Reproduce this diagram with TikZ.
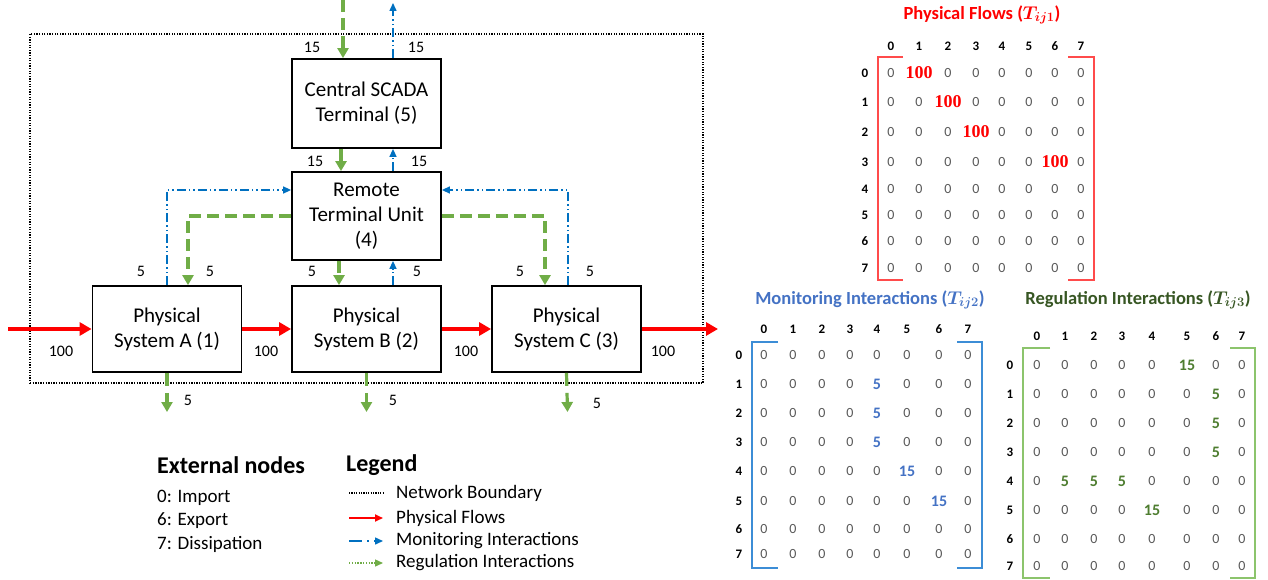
\documentclass[tikz,border=0pt]{standalone}
\usepackage{fix-cm}
\usepackage{fontspec}
\setmainfont{Carlito}
\newfontfamily\serifnum{Liberation Serif}
\usetikzlibrary{arrows.meta}
\definecolor{pred}{HTML}{FF0000}
\definecolor{mblue}{HTML}{0070C0}
\definecolor{rgreen}{HTML}{70AD47}
\definecolor{tblue}{HTML}{4472C4}
\definecolor{tgreen}{HTML}{375623}
\definecolor{vgreen}{HTML}{4E7D30}
\definecolor{zgray}{HTML}{595959}
\definecolor{bred}{HTML}{FF4B4B}
\definecolor{bblue}{HTML}{3C8DD6}
\definecolor{bgreen}{HTML}{8CC46C}
% special matrix entries
\expandafter\def\csname pf01\endcsname{100}
\expandafter\def\csname pf12\endcsname{100}
\expandafter\def\csname pf23\endcsname{100}
\expandafter\def\csname pf36\endcsname{100}
\expandafter\def\csname mi14\endcsname{5}
\expandafter\def\csname mi24\endcsname{5}
\expandafter\def\csname mi34\endcsname{5}
\expandafter\def\csname mi45\endcsname{15}
\expandafter\def\csname mi56\endcsname{15}
\expandafter\def\csname rg05\endcsname{15}
\expandafter\def\csname rg16\endcsname{5}
\expandafter\def\csname rg26\endcsname{5}
\expandafter\def\csname rg36\endcsname{5}
\expandafter\def\csname rg41\endcsname{5}
\expandafter\def\csname rg42\endcsname{5}
\expandafter\def\csname rg43\endcsname{5}
\expandafter\def\csname rg54\endcsname{15}
\def\pcols{0/891,1/919,2/948,3/976,4/1002,5/1029,6/1055,7/1081}
\def\prows{0/73,1/102,2/132,3/162,4/189,5/215,6/241,7/268}
\def\mcols{0/764,1/793,2/822,3/850,4/877,5/907,6/939,7/968}
\def\mrows{0/355,1/384,2/413,3/442,4/471,5/501,6/529,7/554}
\def\gcols{0/1037,1/1065,2/1094,3/1122,4/1152,5/1187,6/1216,7/1242}
\def\grows{0/365,1/394,2/423,3/452,4/481,5/510,6/539,7/566}
\tikzset{
  box/.style={draw, line width=1.8pt, minimum width=149pt, minimum height=88pt, align=center, inner sep=0pt, font=\fontsize{21}{25}\selectfont},
  lbl/.style={font=\fontsize{16}{19}\selectfont, inner sep=0pt},
  phys/.style={draw=pred, line width=4pt, -{Triangle[length=12pt,width=13pt]}},
  mon/.style={draw=mblue, line width=1.5pt, dash pattern=on 9pt off 3pt on 1.5pt off 3pt on 1.5pt off 3pt, -{Triangle[length=8pt,width=7pt]}},
  reg/.style={draw=rgreen, line width=3.2pt, dash pattern=on 12pt off 6pt, -{Triangle[length=10pt,width=11pt]}},
  boundary/.style={draw, line width=1.1pt, dash pattern=on 1.3pt off 1.3pt},
  legtxt/.style={anchor=west, inner sep=0pt, font=\fontsize{19}{22}\selectfont},
  legtitle/.style={anchor=west, inner sep=0pt, font=\bfseries\fontsize{24}{27}\selectfont},
  hdr/.style={inner sep=0pt, font=\bfseries\fontsize{13}{15}\selectfont},
  zero/.style={inner sep=0pt, text=zgray, font=\fontsize{14}{16}\selectfont},
  pval/.style={inner sep=0pt, text=pred, font=\serifnum\bfseries\fontsize{18}{20}\selectfont},
  mval/.style={inner sep=0pt, text=tblue, font=\bfseries\fontsize{16}{18}\selectfont},
  gval/.style={inner sep=0pt, text=vgreen, font=\bfseries\fontsize{16}{18}\selectfont},
  mtitle/.style={inner sep=0pt, font=\bfseries\boldmath\fontsize{18.5}{22}\selectfont},
  brk/.style={line width=1.6pt}
}
\begin{document}
\begin{tikzpicture}[x=1pt,y=-1pt]
\useasboundingbox (0,0) rectangle (1268,580);
% network boundary
\node[boundary, minimum width=673pt, minimum height=349pt, inner sep=0pt] (bnd) at (366.5,208.5) {};
% boxes
\node[box, minimum height=89pt] (scada) at (366.5,103.5) {Central SCADA\\Terminal (5)};
\node[box] (rtu) at (366.5,216) {Remote\\Terminal Unit\\(4)};
\node[box, minimum height=86pt] (a) at (167,329) {Physical\\System A (1)};
\node[box, minimum height=86pt] (b) at (366.5,329) {Physical\\System B (2)};
\node[box, minimum height=86pt] (c) at (566.5,329) {Physical\\System C (3)};
% external coordinates
\coordinate (regin) at (343,0);
\coordinate (monout) at (393,3);
\coordinate (imp) at (8,329);
\coordinate (exp) at (718,329);
\coordinate (da) at (167,412);
\coordinate (db) at (366.5,412);
\coordinate (dc) at (567.5,412);
% top connections
\draw[reg] (regin) -- (scada.north -| regin);
\draw[mon] (scada.north -| monout) -- (monout);
\draw[reg] ([xshift=-25.5pt]scada.south) -- ([xshift=-25.5pt]rtu.north);
\draw[mon] ([xshift=26.5pt]rtu.north) -- ([xshift=26.5pt]scada.south);
% RTU to systems
\draw[mon] (a.north) |- ([yshift=26pt]rtu.west);
\draw[reg] (rtu.west) -| ([xshift=21pt]a.north);
\draw[mon] ([xshift=1.5pt]c.north) |- ([yshift=26pt]rtu.east);
\draw[reg] (rtu.east) -| ([xshift=-21.5pt]c.north);
\draw[reg] ([xshift=-27.5pt]rtu.south) -- ([xshift=-27.5pt]b.north);
\draw[mon] ([xshift=26.5pt]b.north) -- ([xshift=26.5pt]rtu.south);
% physical flows
\draw[phys] (imp) -- (a.west);
\draw[phys] (a.east) -- (b.west);
\draw[phys] (b.east) -- (c.west);
\draw[phys] (c.east) -- (exp);
% dissipation
\draw[reg, dash pattern=on 13pt off 7pt] (a.south) -- (da);
\draw[reg, dash pattern=on 13pt off 7pt] (b.south) -- (db);
\draw[reg, dash pattern=on 13pt off 7pt] (c.south) -- (dc);
% labels
\node[lbl] (l1) at (312,47) {15};
\node[lbl] (l2) at (416,47) {15};
\node[lbl] (l3) at (315,161) {15};
\node[lbl] (l4) at (419,161) {15};
\node[lbl] (l5) at (141,271) {5};
\node[lbl] (l6) at (210,271) {5};
\node[lbl] (l7) at (312,271) {5};
\node[lbl] (l8) at (417,271) {5};
\node[lbl] (l9) at (520,271) {5};
\node[lbl] (l10) at (590,271) {5};
\node[lbl] (l11) at (61,351) {100};
\node[lbl] (l12) at (266,351) {100};
\node[lbl] (l13) at (466,351) {100};
\node[lbl] (l14) at (663,351) {100};
\node[lbl] (l15) at (188,400) {5};
\node[lbl] (l16) at (393,400) {5};
\node[lbl] (l17) at (597,403) {5};
% external nodes
\node[legtitle] (ext) at (157,465) {External nodes};
\node[legtxt] (e0) at (157,498) {0: Import};
\node[legtxt] (e6) at (157,521) {6: Export};
\node[legtxt] (e7) at (157,544) {7: Dissipation};
% legend
\node[legtitle] (leg) at (346,465) {Legend};
\coordinate (g1a) at (349,493); \coordinate (g1b) at (383,493);
\coordinate (g2a) at (349,518); \coordinate (g2b) at (383,518);
\coordinate (g3a) at (349,541); \coordinate (g3b) at (383,541);
\coordinate (g4a) at (349,563); \coordinate (g4b) at (383,563);
\draw[line width=1.1pt, dash pattern=on 1.2pt off 1.2pt] (g1a) -- (g1b);
\draw[pred, line width=1.8pt, -{Triangle[length=8pt,width=7pt]}] (g2a) -- (g2b);
\draw[mblue, line width=1.5pt, dash pattern=on 13pt off 5pt on 2pt off 5pt, -{Triangle[length=8pt,width=7pt]}] (g3a) -- (g3b);
\draw[rgreen, line width=1.4pt, dash pattern=on 1.4pt off 1.4pt, -{Triangle[length=8pt,width=7pt]}] (g4a) -- (g4b);
\node[legtxt] (t1) at (396,493) {Network Boundary};
\node[legtxt] (t2) at (396,518) {Physical Flows};
\node[legtxt] (t3) at (396,541) {Monitoring Interactions};
\node[legtxt] (t4) at (396,563) {Regulation Interactions};
% ---------- Physical flows matrix
\node[mtitle, text=pred] (ptitle) at (982,15) {Physical Flows ($T_{ij1}$)};
\foreach \c/\x in \pcols {\node[hdr] (ph-\c) at (\x,46) {\c};}
\foreach \r/\y in \prows {\node[hdr] (pr-\r) at (865,\y) {\r};}
\foreach \r/\y in \prows {\foreach \c/\x in \pcols {%
  \ifcsname pf\r\c\endcsname
    \node[pval] (p-\r-\c) at (\x,\y) {\csname pf\r\c\endcsname};
  \else
    \node[zero] (p-\r-\c) at (\x,\y) {0};
  \fi}}
\draw[brk, bred] (903,57) -- (878,57) -- (878,280) -- (903,280);
\draw[brk, bred] (1068,57) -- (1094,57) -- (1094,280) -- (1068,280);
% ---------- Monitoring matrix
\node[mtitle, text=tblue] (mtitle) at (870,300) {Monitoring Interactions ($T_{ij2}$)};
\foreach \c/\x in \mcols {\node[hdr] (mh-\c) at (\x,329) {\c};}
\foreach \r/\y in \mrows {\node[hdr] (mr-\r) at (739,\y) {\r};}
\foreach \r/\y in \mrows {\foreach \c/\x in \mcols {%
  \ifcsname mi\r\c\endcsname
    \node[mval] (m-\r-\c) at (\x,\y) {\csname mi\r\c\endcsname};
  \else
    \node[zero] (m-\r-\c) at (\x,\y) {0};
  \fi}}
\draw[brk, bblue] (778,342) -- (752,342) -- (752,568) -- (778,568);
\draw[brk, bblue] (957,342) -- (982,342) -- (982,568) -- (957,568);
% ---------- Regulation matrix
\node[mtitle, text=tgreen] (gtitle) at (1138,300) {Regulation Interactions ($T_{ij3}$)};
\foreach \c/\x in \gcols {\node[hdr] (gh-\c) at (\x,336) {\c};}
\foreach \r/\y in \grows {\node[hdr] (gr-\r) at (1010,\y) {\r};}
\foreach \r/\y in \grows {\foreach \c/\x in \gcols {%
  \ifcsname rg\r\c\endcsname
    \node[gval] (g-\r-\c) at (\x,\y) {\csname rg\r\c\endcsname};
  \else
    \node[zero] (g-\r-\c) at (\x,\y) {0};
  \fi}}
\draw[brk, bgreen] (1050,348) -- (1023,348) -- (1023,578) -- (1050,578);
\draw[brk, bgreen] (1230,348) -- (1255,348) -- (1255,578) -- (1230,578);
\end{tikzpicture}
\end{document}
